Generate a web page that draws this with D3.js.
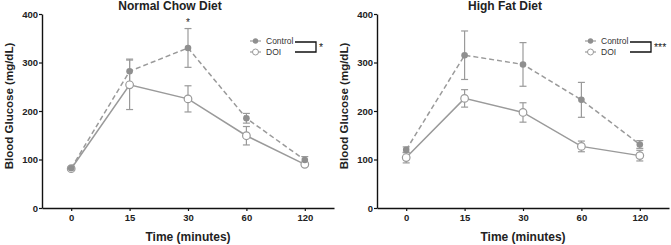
<!DOCTYPE html>
<html>
<head>
<meta charset="utf-8">
<script src="https://cdn.jsdelivr.net/npm/d3@7"></script>
<style>
  body { margin: 0; background: #fff; }
  svg { display: block; font-family: "Liberation Sans", Arial, sans-serif; }
</style>
</head>
<body>
<svg id="chart" width="671" height="245"></svg>
<script>
const times = ['0', '15', '30', '60', '120'];
const yTicks = [0, 100, 200, 300, 400];

// Normal chow diet
const chowControl = [82, 282, 330, 185, 99];
const chowControlErr = [3, 25, 40, 10, 7];
const chowDOI = [81, 254, 225, 149, 90];
const chowDOIErr = [3, 51, 27, 19, 4];

// High fat diet
const hfdControl = [120, 315, 296, 223, 131];
const hfdControlErr = [6, 50, 45, 36, 8];
const hfdDOI = [104, 226, 197, 127, 108];
const hfdDOIErr = [11, 18, 20, 11, 11];

const panels = [
  { title: 'Normal Chow Diet', dx: 0, control: chowControl, controlErr: chowControlErr,
    doi: chowDOI, doiErr: chowDOIErr, sig: '*', pointStar: { i: 2, text: '*' } },
  { title: 'High Fat Diet', dx: 335, control: hfdControl, controlErr: hfdControlErr,
    doi: hfdDOI, doiErr: hfdDOIErr, sig: '***', pointStar: null }
];

const svg = d3.select('#chart');
const grey = '#9a9a9a';
const markGrey = '#8f8f8f';

panels.forEach(p => {
  const g = svg.append('g').attr('transform', `translate(${p.dx},0)`);
  const x = d3.scalePoint().domain(times).range([42, 334]).padding(0.5);
  const y = d3.scaleLinear().domain([0, 400]).range([208, 14]);

  // axes
  g.append('g')
    .attr('transform', 'translate(42,0)')
    .call(d3.axisLeft(y).tickValues(yTicks).tickSize(3).tickPadding(1).tickSizeOuter(0))
    .call(a => a.select('.domain').attr('stroke', '#111').attr('stroke-width', 1.4))
    .call(a => a.selectAll('.tick line').attr('stroke', '#111').attr('stroke-width', 1.2))
    .call(a => a.selectAll('text').attr('font-size', 9.5).attr('font-weight', 'bold').attr('fill', '#222'));

  g.append('g')
    .attr('transform', 'translate(0,208)')
    .call(d3.axisBottom(x).tickSize(3).tickPadding(3).tickSizeOuter(0))
    .call(a => a.select('.domain').attr('stroke', '#111').attr('stroke-width', 1.4))
    .call(a => a.selectAll('.tick line').attr('stroke', '#111').attr('stroke-width', 1.2))
    .call(a => a.selectAll('text').attr('font-size', 9.5).attr('font-weight', 'bold').attr('fill', '#222'));

  // titles
  g.append('text').attr('x', 170).attr('y', 10).attr('text-anchor', 'middle')
    .attr('font-size', 12).attr('font-weight', 'bold').attr('fill', '#222').text(p.title);
  g.append('text').attr('x', 188).attr('y', 241).attr('text-anchor', 'middle')
    .attr('font-size', 12).attr('font-weight', 'bold').attr('fill', '#222').text('Time (minutes)');
  g.append('text').attr('transform', 'translate(13,106) rotate(-90)').attr('text-anchor', 'middle')
    .attr('font-size', 11.5).attr('font-weight', 'bold').attr('fill', '#222').text('Blood Glucose (mg/dL)');

  const line = d3.line().x((d, i) => x(times[i])).y(d => y(d));

  function drawErr (vals, errs) {
    vals.forEach((v, i) => {
      const cx = x(times[i]);
      const e = g.append('g').attr('stroke', grey).attr('stroke-width', 1.2);
      e.append('line').attr('x1', cx).attr('x2', cx).attr('y1', y(v - errs[i])).attr('y2', y(v + errs[i]));
      e.append('line').attr('x1', cx - 3.5).attr('x2', cx + 3.5).attr('y1', y(v + errs[i])).attr('y2', y(v + errs[i]));
      e.append('line').attr('x1', cx - 3.5).attr('x2', cx + 3.5).attr('y1', y(v - errs[i])).attr('y2', y(v - errs[i]));
    });
  }

  drawErr(p.control, p.controlErr);
  drawErr(p.doi, p.doiErr);

  g.append('path').datum(p.doi).attr('d', line).attr('fill', 'none')
    .attr('stroke', grey).attr('stroke-width', 1.5);
  g.append('path').datum(p.control).attr('d', line).attr('fill', 'none')
    .attr('stroke', grey).attr('stroke-width', 1.5).attr('stroke-dasharray', '5,3');

  g.selectAll('.c-doi').data(p.doi).join('circle')
    .attr('cx', (d, i) => x(times[i])).attr('cy', d => y(d)).attr('r', 3.8)
    .attr('fill', '#fff').attr('stroke', grey).attr('stroke-width', 1.2);
  g.selectAll('.c-ctl').data(p.control).join('circle')
    .attr('cx', (d, i) => x(times[i])).attr('cy', d => y(d)).attr('r', 3.3)
    .attr('fill', markGrey);

  if (p.pointStar) {
    const i = p.pointStar.i;
    g.append('text').attr('x', x(times[i])).attr('y', y(p.control[i] + p.controlErr[i]) - 3)
      .attr('text-anchor', 'middle').attr('font-size', 10).attr('fill', '#222').text(p.pointStar.text);
  }

  // legend
  const lg = g.append('g');
  lg.append('line').attr('x1', 250).attr('x2', 261).attr('y1', 41).attr('y2', 41)
    .attr('stroke', grey).attr('stroke-width', 1.2);
  lg.append('circle').attr('cx', 255.5).attr('cy', 41).attr('r', 2.7).attr('fill', markGrey);
  lg.append('line').attr('x1', 250).attr('x2', 261).attr('y1', 52).attr('y2', 52)
    .attr('stroke', grey).attr('stroke-width', 1.2);
  lg.append('circle').attr('cx', 255.5).attr('cy', 52).attr('r', 3).attr('fill', '#fff')
    .attr('stroke', grey).attr('stroke-width', 1);
  lg.append('text').attr('x', 266).attr('y', 44).attr('font-size', 8.5).attr('fill', '#333').text('Control');
  lg.append('text').attr('x', 266).attr('y', 55).attr('font-size', 8.5).attr('fill', '#333').text('DOI');
  lg.append('path').attr('d', 'M295,42 H316 V52 H295').attr('fill', 'none')
    .attr('stroke', '#111').attr('stroke-width', 1.3);
  lg.append('text').attr('x', 319).attr('y', 51).attr('font-size', 10.5).attr('fill', '#222').text(p.sig);
});
</script>
</body>
</html>
